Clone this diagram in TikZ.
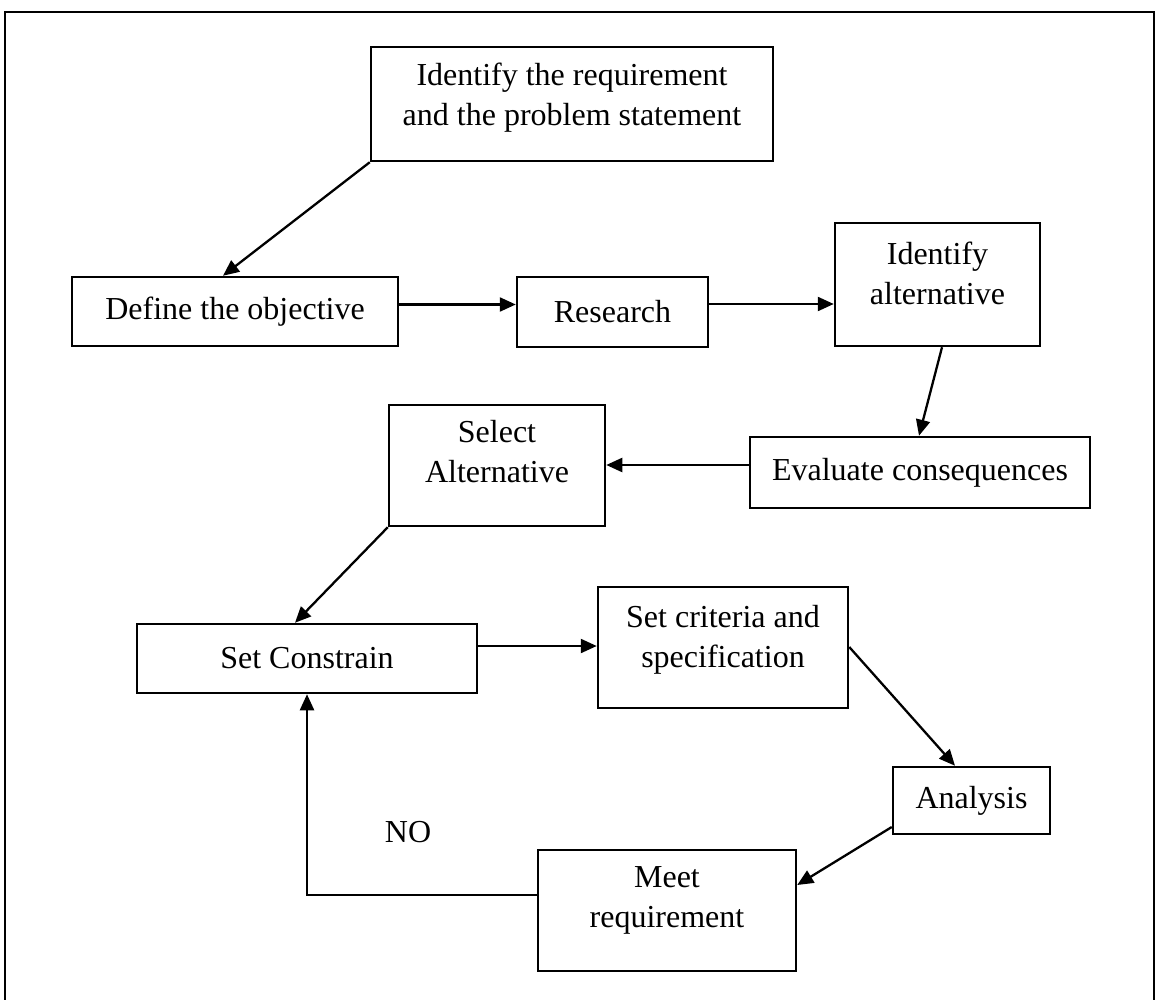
\documentclass[tikz,border=0pt]{standalone}
\usepackage{fontspec}
\setmainfont{Liberation Serif}
\usetikzlibrary{arrows.meta,calc}
\begin{document}
\begin{tikzpicture}[x=1pt,y=-1pt,
  box/.style={draw, line width=2.5pt, inner sep=0pt, align=center, font=\fontsize{32}{40}\selectfont},
  arr/.style={line width=2.3pt, -{Triangle[length=16pt,width=14pt]}},
  lbl/.style={inner sep=0pt, font=\fontsize{32}{40}\selectfont}]
\useasboundingbox (0,0) rectangle (1156,1000);
\draw[line width=2.5pt] (5,1000) -- (5,12) -- (1154,12) -- (1154,1000);

\node[box, minimum width=402pt, minimum height=114pt, text depth=20pt] (b1) at (572,104) {Identify the requirement\\and the problem statement};
\node[box, minimum width=326pt, minimum height=69pt] (def) at (235,311.5) {Define the objective};
\node[box, minimum width=191pt, minimum height=70pt] (res) at (612.5,312) {Research};
\node[box, minimum width=205pt, minimum height=123pt, text depth=22pt] (ia) at (937.5,284.5) {Identify\\alternative};
\node[box, minimum width=340pt, minimum height=71pt] (ev) at (920,472.5) {Evaluate consequences};
\node[box, minimum width=216pt, minimum height=121pt, text depth=28pt] (sel) at (497,465.5) {Select\\Alternative};
\node[box, minimum width=340pt, minimum height=69pt] (sc) at (307,658.5) {Set Constrain};
\node[box, minimum width=250pt, minimum height=121pt, text depth=22pt] (crit) at (723,647.5) {Set criteria and\\specification};
\node[box, minimum width=157pt, minimum height=67pt] (an) at (971.5,800.5) {Analysis};
\node[box, minimum width=258pt, minimum height=121pt, text depth=26pt] (meet) at (667,910.5) {Meet\\requirement};
\node[lbl] (no) at (408,832) {NO};

\draw[arr] (b1.south west) -- ([xshift=-12pt]def.north);
\draw[arr] ([yshift=7pt]def.east) -- ([yshift=7pt]def.east -| res.west);
\draw[arr] ([yshift=8pt]res.east) -- ([yshift=8pt]res.east -| ia.west);
\draw[arr] ([xshift=4.5pt]ia.south) -- ([xshift=-1pt]ev.north);
\draw[arr] ([yshift=7.5pt]ev.west) -- ([yshift=7.5pt]ev.west -| sel.east);
\draw[arr] (sel.south west) -- ([xshift=-12pt]sc.north);
\draw[arr] ([yshift=12.5pt]sc.east) -- ([yshift=12.5pt]sc.east -| crit.west);
\draw[arr] ([yshift=0.5pt]crit.east) -- ([xshift=-16.5pt]an.north);
\draw[arr] ([yshift=-26.5pt]an.west) -- ([yshift=25.5pt]meet.east);
\draw[arr] ([yshift=15.5pt]meet.west) -| (sc.south);
\end{tikzpicture}
\end{document}
